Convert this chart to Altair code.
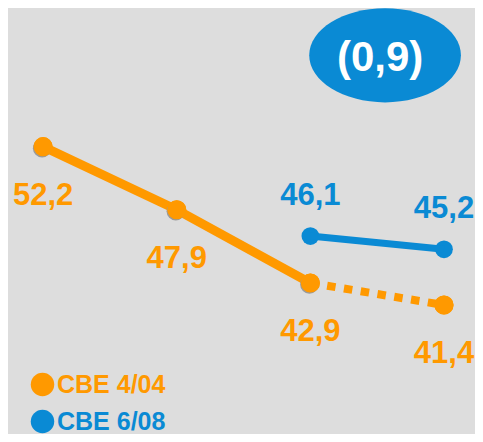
import altair as alt
import pandas as pd

# ---- data ----
periods = [0, 1, 2, 3]
series_names = ["CBE 4/04", "CBE 6/08"]
cbe_404 = [52.2, 47.9, 42.9, 41.4]
cbe_608 = [None, None, 46.1, 45.2]
annotation_text = "(0,9)"

ORANGE = "#FF9900"
BLUE = "#0A8AD4"
BG = "#DDDDDD"
FONT = "Liberation Sans"

rows = []
for p, v in zip(periods, cbe_404):
    rows.append(dict(x=p, v=v, series=series_names[0], label=f"{v:.1f}".replace(".", ",")))
for p, v in zip(periods, cbe_608):
    if v is not None:
        rows.append(dict(x=p, v=v, series=series_names[1], label=f"{v:.1f}".replace(".", ",")))
df = pd.DataFrame(rows)

ann = pd.DataFrame([dict(x=2.559, v=58.43, text=annotation_text)])

xs = alt.Scale(domain=[-0.2627, 3.232], nice=False, zero=False)
ys = alt.Scale(domain=[32.6, 61.66], nice=False, zero=False)
cs = alt.Scale(domain=series_names, range=[ORANGE, BLUE])

X = alt.X("x:Q", scale=xs, axis=None)
Y = alt.Y("v:Q", scale=ys, axis=None)

legend = alt.Legend(
    orient="none", legendX=22, legendY=364, title=None,
    symbolType="circle", symbolSize=550, symbolStrokeWidth=0,
    labelFont=FONT, labelFontSize=25, labelFontWeight="bold",
    labelColor=alt.ExprRef(f"datum.label == 'CBE 4/04' ? '{ORANGE}' : '{BLUE}'"),
    rowPadding=11, labelOffset=2, padding=0,
)
C = alt.Color("series:N", scale=cs, legend=legend)
C2 = alt.Color("series:N", scale=cs)

base = alt.Chart(df)

pts_orange = base.transform_filter("datum.series == 'CBE 4/04'").mark_point(
    filled=True, opacity=1, size=366
).encode(x=X, y=Y, color=C)

shadow = base.transform_filter("datum.series == 'CBE 4/04' && datum.x <= 2").mark_point(
    filled=True, opacity=1, size=340, color="#9a9a9a", xOffset=-1, yOffset=1.5
).encode(x=X, y=Y)

pts_orange_top = base.transform_filter("datum.series == 'CBE 4/04'").mark_point(
    filled=True, opacity=1, size=366
).encode(x=X, y=Y, color=C2)

pts_blue = base.transform_filter("datum.series == 'CBE 6/08'").mark_point(
    filled=True, opacity=1, size=314
).encode(x=X, y=Y, color=C2)

line_solid = base.transform_filter(
    "datum.series == 'CBE 4/04' && datum.x <= 2"
).mark_line(strokeWidth=9).encode(x=X, y=Y, color=C2)

line_dash = base.transform_filter(
    "datum.series == 'CBE 4/04' && datum.x >= 2"
).mark_line(strokeWidth=8, strokeDash=[8.5, 8.5]).encode(x=X, y=Y, color=C2)

line_blue = base.transform_filter(
    "datum.series == 'CBE 6/08'"
).mark_line(strokeWidth=7).encode(x=X, y=Y, color=C2)

lab_orange = base.transform_filter("datum.series == 'CBE 4/04'").mark_text(
    font=FONT, fontSize=31, fontWeight="bold", align="center", baseline="alphabetic", dy=58
).encode(x=X, y=Y, text="label:N", color=C2)

lab_blue = base.transform_filter("datum.series == 'CBE 6/08'").mark_text(
    font=FONT, fontSize=31, fontWeight="bold", align="center", baseline="alphabetic", dy=-31
).encode(x=X, y=Y, text="label:N", color=C2)

ELLIPSE = "M -1 0 A 1 0.62 0 1 1 1 0 A 1 0.62 0 1 1 -1 0 Z"
ann_shape = alt.Chart(ann).mark_point(
    shape=ELLIPSE, size=23013, filled=True, opacity=1, color=BLUE, strokeWidth=0
).encode(x=X, y=Y)
ann_text = alt.Chart(ann).mark_text(
    font=FONT, fontSize=42, fontWeight="bold", color="white",
    align="center", baseline="alphabetic", dx=-5, dy=16
).encode(x=X, y=Y, text="text:N")

chart = alt.layer(
    pts_orange, pts_blue, line_solid, line_dash, line_blue, shadow, pts_orange_top,
    lab_orange, lab_blue, ann_shape, ann_text
).properties(
    width=467, height=426,
    autosize=alt.AutoSizeParams(type="none"),
    padding=0, background=BG,
).configure_view(stroke=None)

chart.save("out.html", embed_options={"renderer": "svg", "actions": False})
